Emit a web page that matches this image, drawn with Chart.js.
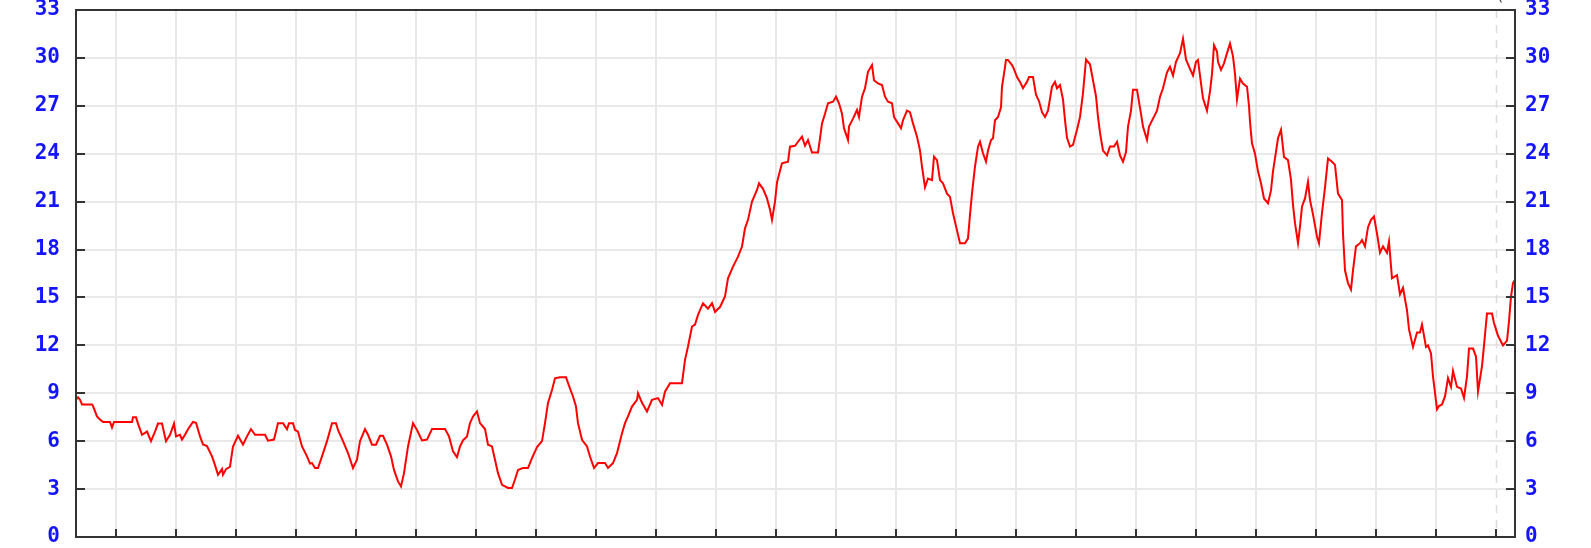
<!DOCTYPE html>
<html>
<head>
<meta charset="utf-8">
<script src="https://cdn.jsdelivr.net/npm/chart.js@4.4.1/dist/chart.umd.min.js"></script>
<style>
    html, body { margin: 0; padding: 0; background: #fff; }
    #chart { display: block; }
</style>
</head>
<body>
<canvas id="chart" width="1591" height="548"></canvas>
<script>
/* x = minutes since the left edge of the plot, y = reading */
const minutes = [
    0, 2, 4, 6, 16, 17, 21, 24, 27, 34, 36, 38, 56, 57, 60, 62, 66, 71, 75, 79,
    82, 86, 90, 94, 98, 100, 104, 106, 109, 112, 117, 120, 124, 127, 131, 136, 139, 142, 146, 147,
    150, 154, 157, 162, 167, 171, 175, 179, 189, 192, 198, 202, 207, 211, 213, 217, 219, 222, 226, 231,
    234, 236, 239, 242, 246, 251, 256, 260, 262, 267, 272, 277, 281, 284, 289, 292, 296, 300, 304, 307,
    311, 315, 318, 322, 325, 328, 332, 337, 341, 346, 351, 356, 361, 369, 373, 377, 381, 384, 387, 391,
    394, 397, 401, 404, 409, 412, 416, 419, 422, 426, 429, 432, 436, 439, 442, 447, 452, 456, 461, 466,
    469, 472, 476, 479, 484, 490, 494, 497, 500, 502, 506, 511, 514, 518, 522, 529, 532, 537, 541, 546,
    549, 552, 556, 561, 562, 566, 571, 576, 582, 586, 589, 594, 606, 609, 612, 616, 619, 622, 627, 632,
    636, 639, 644, 649, 652, 657, 662, 666, 669, 672, 676, 681, 683, 687, 691, 694, 696, 699, 701, 703,
    706, 712, 714, 719, 722, 726, 729, 732, 736, 742, 744, 746, 749, 752, 757, 760, 763, 766, 768, 772,
    773, 777, 781, 783, 786, 789, 792, 796, 798, 802, 806, 809, 812, 816, 818, 822, 825, 827, 831, 834,
    837, 841, 844, 846, 849, 852, 856, 858, 861, 864, 867, 871, 874, 877, 881, 884, 889, 892, 894, 896,
    899, 902, 904, 907, 910, 912, 915, 917, 919, 922, 925, 926, 928, 930, 932, 936, 938, 941, 944, 947,
    951, 953, 957, 960, 963, 966, 969, 972, 976, 979, 981, 984, 987, 989, 991, 994, 997, 1001, 1004, 1007,
    1010, 1014, 1017, 1020, 1022, 1024, 1027, 1031, 1034, 1038, 1041, 1044, 1047, 1050, 1052, 1055, 1057, 1061, 1065, 1067,
    1071, 1073, 1077, 1081, 1084, 1087, 1091, 1094, 1097, 1100, 1104, 1107, 1110, 1113, 1117, 1120, 1122, 1125, 1127, 1131,
    1134, 1136, 1138, 1141, 1142, 1145, 1148, 1151, 1154, 1157, 1159, 1161, 1164, 1167, 1171, 1173, 1174, 1176, 1179, 1182,
    1185, 1188, 1192, 1195, 1197, 1200, 1202, 1205, 1208, 1212, 1215, 1217, 1219, 1222, 1224, 1226, 1229, 1232, 1234, 1237,
    1241, 1243, 1246, 1249, 1252, 1256, 1259, 1262, 1266, 1267, 1269, 1272, 1275, 1277, 1280, 1284, 1286, 1289, 1292, 1295,
    1298, 1301, 1304, 1307, 1311, 1313, 1316, 1321, 1324, 1327, 1331, 1333, 1337, 1341, 1344, 1346, 1350, 1352, 1355, 1357,
    1361, 1363, 1366, 1369, 1372, 1375, 1377, 1381, 1385, 1388, 1391, 1393, 1397, 1400, 1402, 1406, 1408, 1411, 1416, 1418,
    1422, 1427, 1431, 1433, 1435, 1437, 1439
];

const readings = [
    8.6, 8.75, 8.6, 8.3, 8.3, 8.2, 7.55, 7.35, 7.2, 7.2, 6.85, 7.2, 7.2, 7.5, 7.5, 7.1, 6.4, 6.6, 6.0, 6.6,
    7.1, 7.1, 6.0, 6.4, 7.1, 6.3, 6.4, 6.1, 6.4, 6.75, 7.2, 7.15, 6.3, 5.8, 5.7, 5.05, 4.5, 3.9, 4.25, 3.9,
    4.25, 4.4, 5.67, 6.34, 5.78, 6.3, 6.76, 6.4, 6.4, 6.03, 6.1, 7.13, 7.13, 6.75, 7.13, 7.13, 6.7, 6.6, 5.67, 5.05,
    4.6, 4.63, 4.32, 4.32, 5.05, 6.0, 7.13, 7.13, 6.7, 6.0, 5.26, 4.32, 4.84, 6.0, 6.76, 6.4, 5.78, 5.78, 6.34, 6.34,
    5.78, 5.05, 4.2, 3.48, 3.17, 4.0, 5.67, 7.13, 6.7, 6.05, 6.1, 6.76, 6.76, 6.76, 6.3, 5.36, 5.0, 5.67, 6.05, 6.3,
    7.13, 7.55, 7.86, 7.13, 6.76, 5.78, 5.67, 4.84, 4.0, 3.27, 3.17, 3.07, 3.07, 3.6, 4.2, 4.32, 4.32, 4.94, 5.63, 6.0,
    7.13, 8.4, 9.2, 9.94, 10.0, 10.0, 9.3, 8.8, 8.17, 7.13, 6.09, 5.67, 5.04, 4.32, 4.63, 4.63, 4.32, 4.63, 5.25, 6.5,
    7.13, 7.55, 8.17, 8.59, 9.0, 8.4, 7.86, 8.59, 8.7, 8.28, 9.1, 9.63, 9.63, 11.09, 11.93, 13.18, 13.3, 13.91, 14.64, 14.3,
    14.64, 14.1, 14.4, 15.06, 16.2, 16.93, 17.56, 18.19, 19.33, 19.86, 21.0, 21.73, 22.15, 21.8, 21.2, 20.5, 19.86, 21.0, 22.2, 22.7,
    23.4, 23.5, 24.44, 24.5, 24.75, 25.07, 24.5, 24.86, 24.07, 24.07, 24.96, 25.9, 26.5, 27.16, 27.26, 27.57, 27.16, 26.5, 25.6, 24.86,
    25.7, 26.2, 26.74, 26.3, 27.57, 28.1, 29.13, 29.55, 28.6, 28.4, 28.3, 27.57, 27.26, 27.16, 26.3, 25.9, 25.6, 26.1, 26.7, 26.6,
    25.9, 25.07, 24.2, 23.2, 21.9, 22.45, 22.35, 23.82, 23.6, 22.35, 22.15, 21.5, 21.3, 20.27, 19.2, 18.4, 18.4, 18.7, 20.17, 21.52,
    23.2, 24.44, 24.75, 24.03, 23.5, 24.2, 24.86, 24.96, 26.1, 26.3, 26.9, 28.2, 29.0, 29.87, 29.87, 29.55, 29.3, 28.8, 28.5, 28.1,
    28.5, 28.8, 28.8, 27.7, 27.3, 26.6, 26.3, 26.7, 28.2, 28.5, 28.1, 28.3, 27.4, 26.1, 25.0, 24.45, 24.55, 25.5, 26.3, 27.8,
    29.9, 29.6, 28.6, 27.6, 26.3, 25.3, 24.2, 23.9, 24.45, 24.45, 24.75, 23.9, 23.5, 24.1, 25.7, 26.7, 28.0, 28.0, 26.5, 25.7,
    24.86, 25.7, 26.2, 26.7, 27.57, 28.1, 29.1, 29.45, 28.9, 29.76, 30.3, 31.2, 29.9, 29.45, 28.9, 29.76, 29.87, 28.4, 27.47, 26.7,
    27.9, 29.0, 30.8, 30.4, 29.76, 29.25, 29.66, 30.3, 30.9, 30.1, 29.0, 27.4, 28.7, 28.4, 28.2, 27.0, 26.0, 24.65, 24.0, 22.9,
    22.15, 21.2, 20.9, 21.7, 22.9, 24.13, 24.97, 25.5, 23.8, 23.6, 22.36, 20.8, 19.65, 18.4, 19.44, 20.7, 21.2, 22.25, 21.1, 20.2,
    18.8, 18.4, 20.3, 21.9, 23.7, 23.5, 23.3, 21.5, 21.1, 19.0, 16.7, 15.9, 15.5, 16.7, 18.2, 18.4, 18.6, 18.2, 19.4, 19.86,
    20.07, 19.0, 17.8, 18.2, 17.8, 18.5, 16.2, 16.4, 15.2, 15.6, 14.2, 13.0, 11.9, 12.8, 12.8, 13.3, 11.9, 12.0, 11.5, 10.05,
    8.0, 8.2, 8.3, 8.8, 9.95, 9.4, 10.4, 9.4, 9.3, 8.7, 10.05, 11.8, 11.8, 11.3, 9.1, 10.7, 12.0, 14.0, 14.0, 13.4,
    12.6, 12.0, 12.3, 13.5, 15.06, 15.9, 16.1
];

/* hour marks along the bottom (minutes), the last one is drawn dashed */
const hourMarks = [40, 100, 160, 220, 280, 340, 400, 460, 520, 580, 640, 700,
                   760, 820, 880, 940, 1000, 1060, 1120, 1180, 1240, 1300, 1360, 1420];
const dashedMark = 1420;
const yTicks = [0, 3, 6, 9, 12, 15, 18, 21, 24, 27, 30, 33];
const unitLabel = '(Km/h)';

const COLORS = {
    line: '#ff0000',
    grid: '#e9e9e9',
    frame: '#333333',
    label: '#1414ff',
};
const LABEL_FONT = { family: "'DejaVu Sans Mono', monospace", size: 21, weight: 'bold' };

/* box, inner tick marks and the dashed "now" line */
const framePlugin = {
    id: 'frame',
    beforeDatasetsDraw(chart) {
        const { ctx, chartArea: a, scales } = chart;
        const x = Math.round(scales.x.getPixelForValue(dashedMark)) + 0.5;
        ctx.save();
        ctx.strokeStyle = '#dcdcdc';
        ctx.lineWidth = 1.5;
        ctx.setLineDash([8, 7]);
        ctx.beginPath();
        ctx.moveTo(x, a.top);
        ctx.lineTo(x, a.bottom);
        ctx.stroke();
        ctx.restore();
    },
    afterDraw(chart) {
        const { ctx, chartArea: a, scales } = chart;
        ctx.save();
        ctx.strokeStyle = COLORS.frame;
        ctx.lineWidth = 2;
        ctx.strokeRect(a.left, a.top, a.right - a.left, a.bottom - a.top);
        ctx.beginPath();
        yTicks.forEach(v => {
            const y = Math.round(scales.y.getPixelForValue(v));
            ctx.moveTo(a.left, y); ctx.lineTo(a.left + 9, y);
            ctx.moveTo(a.right, y); ctx.lineTo(a.right - 9, y);
        });
        hourMarks.forEach(m => {
            const x = Math.round(scales.x.getPixelForValue(m));
            ctx.moveTo(x, a.bottom); ctx.lineTo(x, a.bottom - 8);
        });
        ctx.stroke();

        ctx.fillStyle = '#444';
        ctx.font = "16px 'DejaVu Sans'";
        ctx.textBaseline = 'bottom';
        ctx.textAlign = 'left';
        ctx.fillText(unitLabel, 1497, 4);
        ctx.restore();
    },
};

const points = minutes.map((m, i) => ({ x: m, y: readings[i] }));

const yAxis = (position, showGrid) => ({
    type: 'linear',
    position,
    min: 0,
    max: 33,
    afterBuildTicks: scale => { scale.ticks = yTicks.map(v => ({ value: v })); },
    afterFit: scale => {
        scale.width = 76;
        scale.paddingTop = 0;
        scale.paddingBottom = 0;
    },
    ticks: {
        color: COLORS.label,
        font: LABEL_FONT,
        padding: position === 'left' ? 16 : 10,
    },
    grid: { display: showGrid, color: COLORS.grid, lineWidth: 2, drawTicks: false },
    border: { display: false },
});

new Chart(document.getElementById('chart'), {
    type: 'line',
    data: {
        datasets: [{
            data: points,
            borderColor: COLORS.line,
            borderWidth: 2,
            pointRadius: 0,
            tension: 0,
            fill: false,
        }],
    },
    options: {
        responsive: false,
        animation: false,
        layout: { padding: { top: 10, left: 0, right: 0, bottom: 0 } },
        plugins: { legend: { display: false }, tooltip: { enabled: false } },
        scales: {
            x: {
                type: 'linear',
                min: 0,
                max: 1439,
                afterBuildTicks: scale => { scale.ticks = hourMarks.map(v => ({ value: v })); },
                afterFit: scale => {
                    scale.height = 11;
                    scale.paddingLeft = 0;
                    scale.paddingRight = 0;
                },
                ticks: { display: false },
                grid: {
                    color: c => (c.tick && c.tick.value === dashedMark ? 'transparent' : COLORS.grid),
                    lineWidth: 2,
                    drawTicks: false,
                },
                border: { display: false },
            },
            y: yAxis('left', true),
            y2: yAxis('right', false),
        },
    },
    plugins: [framePlugin],
});
</script>
</body>
</html>
